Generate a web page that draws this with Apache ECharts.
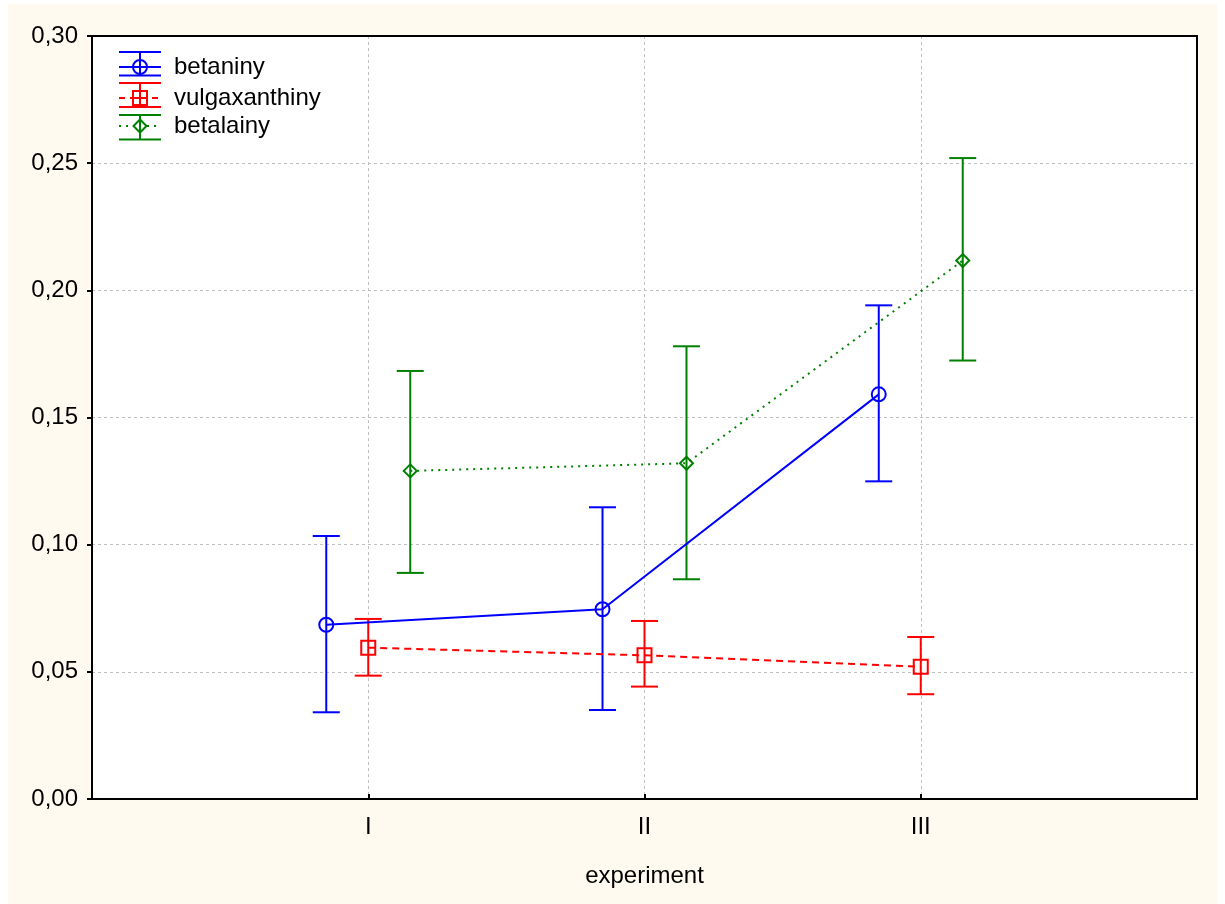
<!DOCTYPE html>
<html>
<head>
<meta charset="utf-8">
<script src="https://cdn.jsdelivr.net/npm/echarts@6/dist/echarts.min.js"></script>
<style>
  html, body { margin: 0; padding: 0; background: #ffffff; }
  #bg { position: absolute; left: 8px; top: 4px; width: 1209px; height: 900px; background: #fffaf0; }
  #chart { position: absolute; left: 0; top: 0; width: 1225px; height: 904px; }
</style>
</head>
<body>
<div id="bg"></div>
<div id="chart"></div>
<script>
// ---- data ----
const categories = ['I', 'II', 'III'];
const yTickLabels = ['0,00', '0,05', '0,10', '0,15', '0,20', '0,25', '0,30'];
const seriesNames = ['betaniny', 'vulgaxanthiny', 'betalainy'];
const betaninyMean = [0.0685, 0.0746, 0.1591];
const betaninyLow  = [0.0341, 0.0350, 0.1249];
const betaninyHigh = [0.1034, 0.1147, 0.1941];
const vulgaxanthinyMean = [0.0595, 0.0565, 0.0520];
const vulgaxanthinyLow  = [0.0485, 0.0442, 0.0412];
const vulgaxanthinyHigh = [0.0708, 0.0700, 0.0637];
const betalainyMean = [0.1290, 0.1320, 0.2117];
const betalainyLow  = [0.0889, 0.0864, 0.1724];
const betalainyHigh = [0.1683, 0.1780, 0.2520];

// ---- styling ----
const FONT = '"Liberation Sans", Arial, sans-serif';
const colors = ['#0000ff', '#ff0000', '#008000'];
const offsets = [-0.152, 0, 0.152]; // horizontal dodge in category units
const symbols = ['circle', 'rect', 'diamond'];
const symbolSizes = [14, 14, 13];
const lineTypes = ['solid', [7, 5], [2, 5]];
const means = [betaninyMean, vulgaxanthinyMean, betalainyMean];
const lows = [betaninyLow, vulgaxanthinyLow, betalainyLow];
const highs = [betaninyHigh, vulgaxanthinyHigh, betalainyHigh];

const CAP = 13.5;
function errRender(color) {
  return function (params, api) {
    const x = api.value(0);
    const p1 = api.coord([x, api.value(1)]);
    const p2 = api.coord([x, api.value(2)]);
    const st = { stroke: color, lineWidth: 2, fill: null };
    return {
      type: 'group',
      children: [
        { type: 'line', shape: { x1: p1[0], y1: p1[1], x2: p2[0], y2: p2[1] }, style: st },
        { type: 'line', shape: { x1: p1[0] - CAP, y1: p1[1], x2: p1[0] + CAP, y2: p1[1] }, style: st },
        { type: 'line', shape: { x1: p2[0] - CAP, y1: p2[1], x2: p2[0] + CAP, y2: p2[1] }, style: st }
      ]
    };
  };
}

const series = [];
for (let s = 0; s < 3; s++) {
  series.push({
    type: 'custom',
    name: seriesNames[s] + '_err',
    renderItem: errRender(colors[s]),
    data: categories.map((c, i) => [i + 1 + offsets[s], lows[s][i], highs[s][i]]),
    z: 2,
    silent: true
  });
}
for (let s = 0; s < 3; s++) {
  series.push({
    type: 'line',
    name: seriesNames[s],
    data: categories.map((c, i) => [i + 1 + offsets[s], means[s][i]]),
    symbol: symbols[s],
    symbolSize: symbolSizes[s],
    showSymbol: true,
    lineStyle: { color: colors[s], width: 2, type: lineTypes[s] },
    itemStyle: { color: 'rgba(0,0,0,0)', borderColor: colors[s], borderWidth: 2 },
    z: 3,
    animation: false
  });
}

// ---- legend built from graphics ----
const legendRows = [
  { top: 52, mid: 67, bottom: 75.5 },
  { top: 83, mid: 98, bottom: 107 },
  { top: 115, mid: 126, bottom: 139.5 }
];
const LX1 = 119, LX2 = 161, LXC = 140;
const graphics = [];
for (let s = 0; s < 3; s++) {
  const r = legendRows[s];
  const st = { stroke: colors[s], lineWidth: 2, fill: null };
  graphics.push({ type: 'line', shape: { x1: LX1, y1: r.top, x2: LX2, y2: r.top }, style: st });
  graphics.push({ type: 'line', shape: { x1: LX1, y1: r.bottom, x2: LX2, y2: r.bottom }, style: st });
  graphics.push({ type: 'line', shape: { x1: LXC, y1: r.top, x2: LXC, y2: r.bottom }, style: st });
  graphics.push({ type: 'line', shape: { x1: LX1, y1: r.mid, x2: LX2, y2: r.mid },
    style: { stroke: colors[s], lineWidth: 2, fill: null, lineDash: s === 0 ? null : (s === 1 ? [6, 5] : [2, 5]) } });
  if (s === 0) {
    graphics.push({ type: 'circle', shape: { cx: LXC, cy: r.mid, r: 7 }, style: { stroke: colors[s], lineWidth: 2, fill: '#ffffff' } });
    graphics.push({ type: 'line', shape: { x1: LXC - 7, y1: r.mid, x2: LXC + 7, y2: r.mid }, style: st });
    graphics.push({ type: 'line', shape: { x1: LXC, y1: r.mid - 7, x2: LXC, y2: r.mid + 7 }, style: st });
  } else if (s === 1) {
    graphics.push({ type: 'rect', shape: { x: LXC - 7, y: r.mid - 7, width: 14, height: 14 }, style: { stroke: colors[s], lineWidth: 2, fill: '#ffffff' } });
    graphics.push({ type: 'line', shape: { x1: LXC - 7, y1: r.mid, x2: LXC + 7, y2: r.mid }, style: st });
    graphics.push({ type: 'line', shape: { x1: LXC, y1: r.mid - 7, x2: LXC, y2: r.mid + 7 }, style: st });
  } else {
    graphics.push({ type: 'polygon', shape: { points: [[LXC, r.mid - 6.5], [LXC + 6.5, r.mid], [LXC, r.mid + 6.5], [LXC - 6.5, r.mid]] }, style: { stroke: colors[s], lineWidth: 2, fill: '#ffffff' } });
    graphics.push({ type: 'line', shape: { x1: LXC, y1: r.mid - 6.5, x2: LXC, y2: r.mid + 6.5 }, style: st });
  }
  graphics.push({ type: 'text', x: 174, y: r.mid, style: { text: seriesNames[s], fill: '#000', font: '24px ' + FONT, textVerticalAlign: 'middle', verticalAlign: 'middle' } });
}
graphics.forEach(g => { g.z = 10; });
// solid frame on top and right of the plot
graphics.push({ type: 'polyline', z: 20, shape: { points: [[92, 36], [1197, 36], [1197, 799]] }, style: { stroke: '#000', lineWidth: 2, fill: null } });

const chart = echarts.init(document.getElementById('chart'), null, { renderer: 'canvas' });
chart.setOption({
  animation: false,
  backgroundColor: 'transparent',
  textStyle: { fontFamily: FONT },
  grid: { left: 92, right: 28, top: 36, bottom: 105, show: true, backgroundColor: '#ffffff', borderColor: '#000000', borderWidth: 2 },
  xAxis: {
    type: 'value', min: 0, max: 4, interval: 1,
    name: 'experiment', nameLocation: 'middle', nameGap: 65,
    nameTextStyle: { fontSize: 24, color: '#000', fontFamily: FONT },
    axisLine: { show: true, lineStyle: { color: '#000', width: 2 } },
    axisTick: { show: true, inside: true, length: 5, lineStyle: { color: '#000', width: 2 } },
    axisLabel: { fontSize: 24, color: '#000', margin: 16, fontFamily: FONT,
      formatter: v => (v >= 1 && v <= categories.length && Number.isInteger(v)) ? categories[v - 1] : '' },
    splitLine: { show: true, showMinLine: false, showMaxLine: false, lineStyle: { color: '#c0c0c0', type: [3, 3], width: 1 } }
  },
  yAxis: {
    type: 'value', min: 0, max: 0.30, interval: 0.05,
    axisLine: { show: true, lineStyle: { color: '#000', width: 2 } },
    axisTick: { show: true, inside: false, length: 5, lineStyle: { color: '#000', width: 2 } },
    axisLabel: { fontSize: 24, color: '#000', margin: 14, fontFamily: FONT,
      formatter: (v) => yTickLabels[Math.round(v / 0.05)] },
    splitLine: { show: true, showMinLine: false, showMaxLine: false, lineStyle: { color: '#c0c0c0', type: [3, 3], width: 1 } }
  },
  series: series,
  graphic: graphics
});
</script>
</body>
</html>
